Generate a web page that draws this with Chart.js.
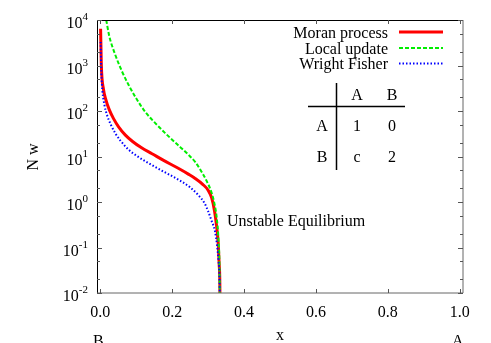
<!DOCTYPE html>
<html>
<head>
<meta charset="utf-8">
<script src="https://cdn.jsdelivr.net/npm/chart.js@4.4.0/dist/chart.umd.min.js"></script>
<style>
  body { margin: 0; background: #fff; }
  canvas { display: block; }
</style>
</head>
<body>
<canvas id="chart" width="491" height="343"></canvas>
<script>
// values
const moranX = [0.001, 0.003, 0.009, 0.016, 0.025, 0.037, 0.051, 0.07, 0.09, 0.115, 0.144, 0.175, 0.217, 0.245, 0.264, 0.285, 0.30, 0.31, 0.318, 0.324, 0.328, 0.331, 0.3328, 0.3333];
const moranY = [6450, 1050, 300, 174, 107, 68, 45, 29.5, 21.4, 15.5, 11.5, 8.3, 5.5, 4.1, 3.3, 2.45, 1.82, 1.23, 0.63, 0.28, 0.126, 0.04, 0.0126, 0.001];

const localX = [0.0167, 0.025, 0.042, 0.06, 0.079, 0.1, 0.125, 0.15, 0.18, 0.2, 0.222, 0.245, 0.264, 0.278, 0.295, 0.31, 0.318, 0.324, 0.329, 0.332, 0.3333];
const localY = [10000, 4470, 1700, 760, 372, 190, 96, 57.5, 33, 23.4, 16.2, 11, 7.6, 5.2, 3.0, 1.58, 0.89, 0.45, 0.14, 0.025, 0.001];

const wfX = [0.001, 0.003, 0.006, 0.012, 0.019, 0.03, 0.042, 0.056, 0.079, 0.106, 0.135, 0.171, 0.2, 0.227, 0.25, 0.273, 0.29, 0.30, 0.31, 0.319, 0.325, 0.329, 0.332, 0.3333];
const wfY = [3300, 710, 282, 132, 81, 49, 32.4, 22.4, 14.1, 9.8, 7.1, 4.9, 3.7, 2.8, 2.1, 1.41, 0.95, 0.63, 0.38, 0.23, 0.11, 0.05, 0.016, 0.001];

const X_TICKS       = [0, 0.2, 0.4, 0.6, 0.8, 1.0];
const X_TICK_LABELS = ["0.0", "0.2", "0.4", "0.6", "0.8", "1.0"];
const Y_EXPONENTS   = [-2, -1, 0, 1, 2, 3, 4];
const Y_MINOR       = [2, 5];

const SERIES_LABELS = ["Moran process", "Local update", "Wright Fisher"];
const TABLE_COLS    = ["A", "B"];
const TABLE_ROWS    = ["A", "B"];
const TABLE_CELLS   = [["1", "0"], ["c", "2"]];

const FONT = "'Liberation Serif', 'DejaVu Serif', serif";

function toPoints(xs, ys) {
  return xs.map((x, i) => ({ x, y: ys[i] }));
}

const STYLES = [
  { color: "#ff0000", width: 3, dash: [] },
  { color: "#00ee00", width: 2, dash: [4, 2] },
  { color: "#0000ff", width: 2, dash: [1.5, 2] },
];

const gnuplotDecor = {
  id: "gnuplotDecor",
  afterDatasetsDraw(chart) {
    const ctx = chart.ctx;
    const xs = chart.scales.x, ys = chart.scales.y;
    const a = chart.chartArea;
    ctx.save();

    // frame
    ctx.lineWidth = 1;
    ctx.strokeStyle = "#000";
    ctx.beginPath();
    ctx.moveTo(a.left + 0.5, a.bottom);
    ctx.lineTo(a.left + 0.5, a.top + 0.5);
    ctx.lineTo(a.right, a.top + 0.5);
    ctx.stroke();
    ctx.strokeStyle = "#666";
    ctx.beginPath();
    ctx.moveTo(a.left, a.bottom);
    ctx.lineTo(a.right, a.bottom);
    ctx.lineTo(a.right, a.top);
    ctx.stroke();

    // ticks
    ctx.strokeStyle = "#555";
    ctx.beginPath();
    X_TICKS.forEach(v => {
      const px = Math.round(xs.getPixelForValue(v)) + 0.5;
      ctx.moveTo(px, a.bottom); ctx.lineTo(px, a.bottom - 4);
      ctx.moveTo(px, a.top); ctx.lineTo(px, a.top + 4);
    });
    Y_EXPONENTS.forEach(e => {
      const py = Math.round(ys.getPixelForValue(Math.pow(10, e))) + 0.5;
      ctx.moveTo(a.left, py); ctx.lineTo(a.left + 5, py);
      ctx.moveTo(a.right, py); ctx.lineTo(a.right - 5, py);
      if (e < 4) {
        Y_MINOR.forEach(m => {
          const pm = Math.round(ys.getPixelForValue(m * Math.pow(10, e))) + 0.5;
          ctx.moveTo(a.left, pm); ctx.lineTo(a.left + 3, pm);
          ctx.moveTo(a.right, pm); ctx.lineTo(a.right - 3, pm);
        });
      }
    });
    ctx.stroke();

    ctx.fillStyle = "#000";
    // x tick labels
    ctx.font = "16px " + FONT;
    ctx.textAlign = "center";
    ctx.textBaseline = "alphabetic";
    X_TICKS.forEach((v, i) => {
      ctx.fillText(X_TICK_LABELS[i], xs.getPixelForValue(v), 317);
    });

    // y tick labels 10^e
    Y_EXPONENTS.forEach(e => {
      const py = ys.getPixelForValue(Math.pow(10, e));
      ctx.font = "11px " + FONT;
      ctx.textAlign = "right";
      const ew = ctx.measureText(String(e)).width;
      ctx.fillText(String(e), 88, py);
      ctx.font = "16px " + FONT;
      ctx.fillText("10", 88 - ew, py + 8);
    });

    // axis titles
    ctx.font = "16px " + FONT;
    ctx.textAlign = "center";
    ctx.fillText("x", (a.left + a.right) / 2, 340);
    ctx.fillText("B", xs.getPixelForValue(0) - 2, 346);
    ctx.fillText("A", xs.getPixelForValue(1) - 2, 346);
    ctx.save();
    ctx.translate(38, 157);
    ctx.rotate(-Math.PI / 2);
    ctx.fillText("N w", 0, 0);
    ctx.restore();

    // legend
    const legBase = [37.5, 53.5, 69];
    SERIES_LABELS.forEach((lbl, i) => {
      ctx.font = "16px " + FONT;
      ctx.textAlign = "right";
      ctx.fillStyle = "#000";
      ctx.fillText(lbl, 388, legBase[i]);
      const st = STYLES[i];
      ctx.strokeStyle = st.color;
      ctx.lineWidth = st.width;
      ctx.setLineDash(st.dash);
      ctx.beginPath();
      ctx.moveTo(399, legBase[i] - 5.5);
      ctx.lineTo(443, legBase[i] - 5.5);
      ctx.stroke();
    });
    ctx.setLineDash([]);

    // payoff table
    ctx.strokeStyle = "#000";
    ctx.lineWidth = 1.5;
    ctx.beginPath();
    ctx.moveTo(336.5, 83); ctx.lineTo(336.5, 170);
    ctx.moveTo(308, 106.5); ctx.lineTo(405, 106.5);
    ctx.stroke();
    ctx.textAlign = "center";
    const colX = [357, 392];
    const rowY = [130.5, 162];
    TABLE_COLS.forEach((c, j) => ctx.fillText(c, colX[j], 100));
    TABLE_ROWS.forEach((r, i) => {
      ctx.fillText(r, 322, rowY[i]);
      TABLE_CELLS[i].forEach((v, j) => ctx.fillText(v, colX[j], rowY[i]));
    });

    // annotation
    ctx.textAlign = "left";
    ctx.fillText("Unstable Equilibrium", 227, 226);

    ctx.restore();
  }
};

const seriesData = [toPoints(moranX, moranY), toPoints(localX, localY), toPoints(wfX, wfY)];

new Chart(document.getElementById("chart"), {
  type: "line",
  data: {
    datasets: seriesData.map((d, i) => ({
      label: SERIES_LABELS[i],
      data: d,
      borderColor: STYLES[i].color,
      borderWidth: STYLES[i].width,
      borderDash: STYLES[i].dash,
      pointRadius: 0,
      fill: false,
      cubicInterpolationMode: "monotone",
      clip: 0,
      order: 2 - i,
    })),
  },
  options: {
    responsive: false,
    animation: false,
    layout: { padding: { left: 97, right: 28, top: 20, bottom: 50 } },
    plugins: { legend: { display: false }, tooltip: { enabled: false } },
    scales: {
      x: { type: "linear", min: -0.009, max: 1.009, display: false },
      y: { type: "logarithmic", min: 0.01, max: 10000, display: false },
    },
  },
  plugins: [gnuplotDecor],
});
</script>
</body>
</html>
